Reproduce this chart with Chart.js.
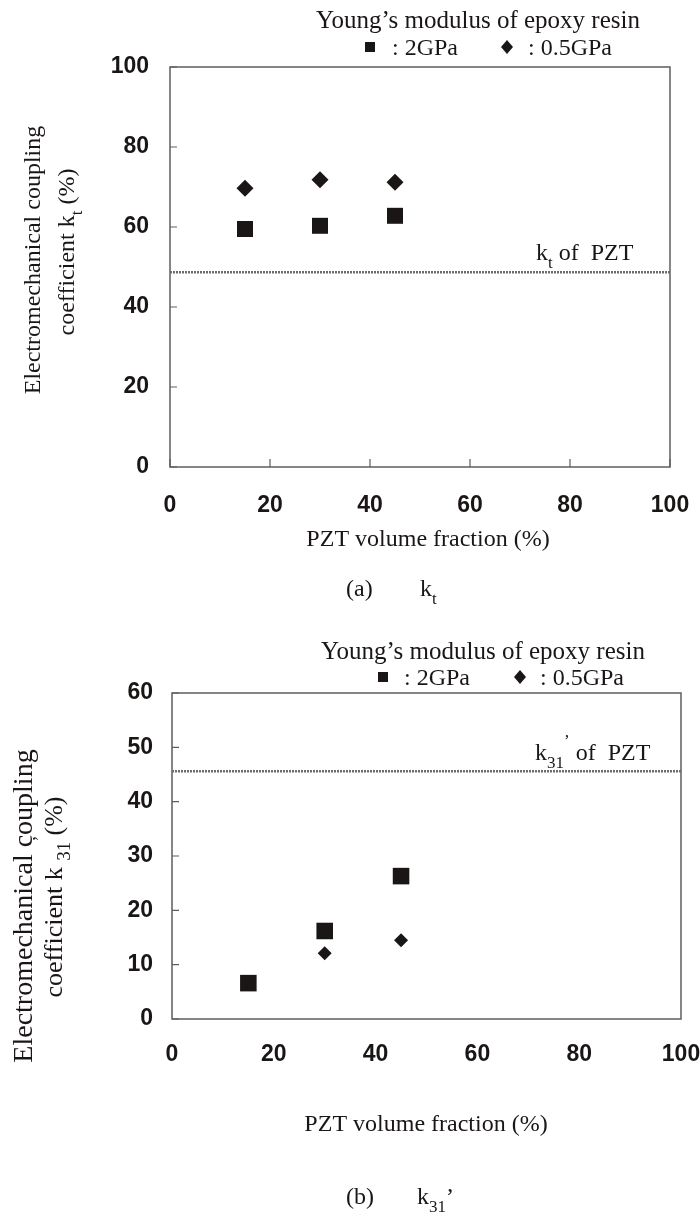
<!DOCTYPE html>
<html lang="en">
<head>
  <meta charset="UTF-8">
  <title>Electromechanical coupling coefficient vs PZT volume fraction</title>
  <script src="https://cdn.jsdelivr.net/npm/chart.js"></script>
  <style>
    html, body { margin: 0; padding: 0; background: #fff; }
    #wrap { position: relative; width: 700px; height: 1213px; }
    canvas { position: absolute; left: 0; }
    #chartA { top: 0; }
    #chartB { top: 610px; }
  </style>
</head>
<body>
  <div id="wrap">
    <canvas id="chartA" width="700" height="610"></canvas>
    <canvas id="chartB" width="700" height="603"></canvas>
  </div>

  <script>
    // values
    const volumeFraction = [15, 30, 45];          // PZT volume fraction (%)
    const ktHard = [59.5, 60.3, 62.8];            // epoxy 2GPa
    const ktSoft = [69.7, 71.8, 71.2];            // epoxy 0.5GPa
    const ktPZT = 48.7;
    const k31Hard = [6.6, 16.2, 26.3];
    const k31Soft = [null, 12.1, 14.5];
    const k31PZT = 45.6;
    const xTicks = [0, 20, 40, 60, 80, 100];
    const ktTicks = [0, 20, 40, 60, 80, 100];
    const k31Ticks = [0, 10, 20, 30, 40, 50, 60];

    const INK = '#1b1616';
    const SERIF = '"Liberation Serif", "Times New Roman", serif';
    const SANS = '"Liberation Sans", Arial, sans-serif';

    function pairs(xs, ys) {
      return xs.map((x, i) => ({ x: x, y: ys[i] })).filter(p => p.y !== null);
    }

    // text with sub/superscript pieces, y is the baseline
    function drawRich(ctx, parts, x, y, size, align) {
      const segs = parts.map(p => typeof p === 'string' ? { t: p } : p);
      let total = 0;
      for (const s of segs) {
        s.px = s.kind ? Math.round(size * 0.72) : size;
        ctx.font = s.px + 'px ' + SERIF;
        s.w = ctx.measureText(s.t).width;
        total += s.w;
      }
      let cx = align === 'center' ? x - total / 2 : x;
      ctx.textAlign = 'left';
      ctx.textBaseline = 'alphabetic';
      for (const s of segs) {
        ctx.font = s.px + 'px ' + SERIF;
        const dy = s.kind === 'sub' ? size * 0.32 : s.kind === 'sup' ? -size * 0.6 : 0;
        ctx.fillText(s.t, cx, y + dy);
        cx += s.w;
      }
    }

    function drawVertical(ctx, parts, cx, cy, size) {
      ctx.save();
      ctx.translate(cx, cy);
      ctx.rotate(-Math.PI / 2);
      drawRich(ctx, parts, 0, size * 0.3, size, 'center');
      ctx.restore();
    }

    function drawLegend(ctx, lg) {
      ctx.fillStyle = INK;
      drawRich(ctx, ["Young\u2019s modulus of epoxy resin"], lg.cx, lg.yHead, 25, 'center');
      ctx.fillRect(lg.xSq - 5, lg.yRow - 13, 10, 10);
      drawRich(ctx, [': 2GPa'], lg.xTxt1, lg.yRow, 24);
      const dy = lg.yRow - 8;
      ctx.beginPath();
      ctx.moveTo(lg.xDia, dy - 7);
      ctx.lineTo(lg.xDia + 6, dy);
      ctx.lineTo(lg.xDia, dy + 7);
      ctx.lineTo(lg.xDia - 6, dy);
      ctx.closePath();
      ctx.fill();
      drawRich(ctx, [': 0.5GPa'], lg.xTxt2, lg.yRow, 24);
    }

    // plot frame and the short inner tick marks
    const framePlugin = {
      id: 'frame',
      beforeDatasetsDraw(chart, args, opts) {
        const a = chart.chartArea, ctx = chart.ctx;
        const xs = chart.scales.x, ys = chart.scales.y;
        ctx.save();
        ctx.strokeStyle = '#5e5e5e';
        ctx.lineWidth = 1.5;
        ctx.strokeRect(a.left, a.top, a.right - a.left, a.bottom - a.top);
        ctx.lineWidth = 1.2;
        ctx.beginPath();
        ys.ticks.forEach(t => {
          const py = ys.getPixelForValue(t.value);
          ctx.moveTo(a.left, py);
          ctx.lineTo(a.left + 7, py);
        });
        if (opts.xTicks) {
          xs.ticks.forEach(t => {
            const px = xs.getPixelForValue(t.value);
            ctx.moveTo(px, a.bottom);
            ctx.lineTo(px, a.bottom - 8);
          });
        }
        ctx.stroke();
        ctx.restore();
      }
    };

    const notesPlugin = {
      id: 'notes',
      afterDraw(chart, args, opts) {
        const ctx = chart.ctx;
        ctx.save();
        ctx.fillStyle = INK;
        opts.draw(ctx, chart);
        ctx.restore();
      }
    };

    function buildChart(id, o) {
      const tickFont = { family: SANS, size: 23, weight: 'bold' };
      return new Chart(document.getElementById(id), {
        type: 'scatter',
        data: {
          datasets: [
            {
              label: '2GPa', data: pairs(volumeFraction, o.hard),
              pointStyle: 'rect', pointRadius: o.sqR, pointHoverRadius: o.sqR,
              backgroundColor: INK, borderColor: INK, borderWidth: 0
            },
            {
              label: '0.5GPa', data: pairs(volumeFraction, o.soft),
              pointStyle: 'rectRot', pointRadius: o.diaR, pointHoverRadius: o.diaR,
              backgroundColor: INK, borderColor: INK, borderWidth: 0
            },
            {
              label: 'PZT', type: 'line',
              data: [{ x: xTicks[0], y: o.pzt }, { x: xTicks[xTicks.length - 1], y: o.pzt }],
              borderColor: '#6c6c6c', borderWidth: 2.5, borderDash: [2, 1],
              pointRadius: 0, showLine: true
            }
          ]
        },
        options: {
          responsive: false,
          animation: false,
          layout: { padding: o.padding },
          plugins: {
            legend: { display: false },
            tooltip: { enabled: false },
            frame: { xTicks: o.innerXTicks },
            notes: { draw: o.draw }
          },
          scales: {
            x: {
              type: 'linear', min: xTicks[0], max: xTicks[xTicks.length - 1],
              afterBuildTicks: s => { s.ticks = xTicks.map(v => ({ value: v })); },
              afterFit: s => { s.height = 70; s.paddingLeft = 0; s.paddingRight = 0; },
              grid: { display: false, drawTicks: false },
              border: { display: false },
              ticks: { padding: o.xPad, color: INK, font: tickFont }
            },
            y: {
              type: 'linear', min: o.yTicks[0], max: o.yTicks[o.yTicks.length - 1],
              afterBuildTicks: s => { s.ticks = o.yTicks.map(v => ({ value: v })); },
              afterFit: s => { s.width = o.yWidth; s.paddingTop = 0; s.paddingBottom = 0; },
              grid: { display: false, drawTicks: false },
              border: { display: false },
              ticks: { padding: o.yPad, color: INK, font: tickFont }
            }
          }
        },
        plugins: [framePlugin, notesPlugin]
      });
    }

    // (a) kt
    buildChart('chartA', {
      hard: ktHard, soft: ktSoft, pzt: ktPZT, yTicks: ktTicks,
      sqR: 11.3, diaR: 8.5,
      padding: { top: 67, left: 0, right: 30, bottom: 73 },
      yWidth: 170, yPad: 21, xPad: 25, innerXTicks: true,
      draw(ctx, chart) {
        const ly = chart.scales.y.getPixelForValue(ktPZT);
        drawLegend(ctx, { cx: 478, yHead: 28, yRow: 55, xSq: 370, xTxt1: 392, xDia: 507, xTxt2: 528 });
        drawRich(ctx, ['k', { t: 't', kind: 'sub' }, ' of  PZT'], 536, ly - 12, 24);
        drawRich(ctx, ['PZT volume fraction (%)'], 428, 546, 24, 'center');
        drawRich(ctx, ['(a)'], 346, 596, 24);
        drawRich(ctx, ['k', { t: 't', kind: 'sub' }], 420, 596, 24);
        drawVertical(ctx, ['Electromechanical coupling'], 33, 260, 24);
        drawVertical(ctx, ['coefficient k', { t: 't', kind: 'sub' }, ' (%)'], 67, 252, 24);
      }
    });

    // (b) k31'
    buildChart('chartB', {
      hard: k31Hard, soft: k31Soft, pzt: k31PZT, yTicks: k31Ticks,
      sqR: 11.7, diaR: 7,
      padding: { top: 83, left: 0, right: 19, bottom: 124 },
      yWidth: 172, yPad: 19, xPad: 22, innerXTicks: false,
      draw(ctx, chart) {
        const ly = chart.scales.y.getPixelForValue(k31PZT);
        drawLegend(ctx, { cx: 483, yHead: 49, yRow: 75, xSq: 383, xTxt1: 404, xDia: 520, xTxt2: 540 });
        drawRich(ctx, ['k', { t: '31', kind: 'sub' }, { t: '\u2019', kind: 'sup' }, ' of  PZT'], 535, ly - 11, 24);
        drawRich(ctx, ['PZT volume fraction (%)'], 426, 521, 24, 'center');
        drawRich(ctx, ['(b)'], 346, 594, 24);
        drawRich(ctx, ['k', { t: '31', kind: 'sub' }, '\u2019'], 417, 594, 24);
        drawVertical(ctx, ['Electromechanical coupling'], 24, 296, 28);
        drawVertical(ctx, ['coefficient k ', { t: '31', kind: 'sub' }, { t: '\u2019', kind: 'sup' }, '(%)'], 54, 287, 26);
      }
    });
  </script>
</body>
</html>
